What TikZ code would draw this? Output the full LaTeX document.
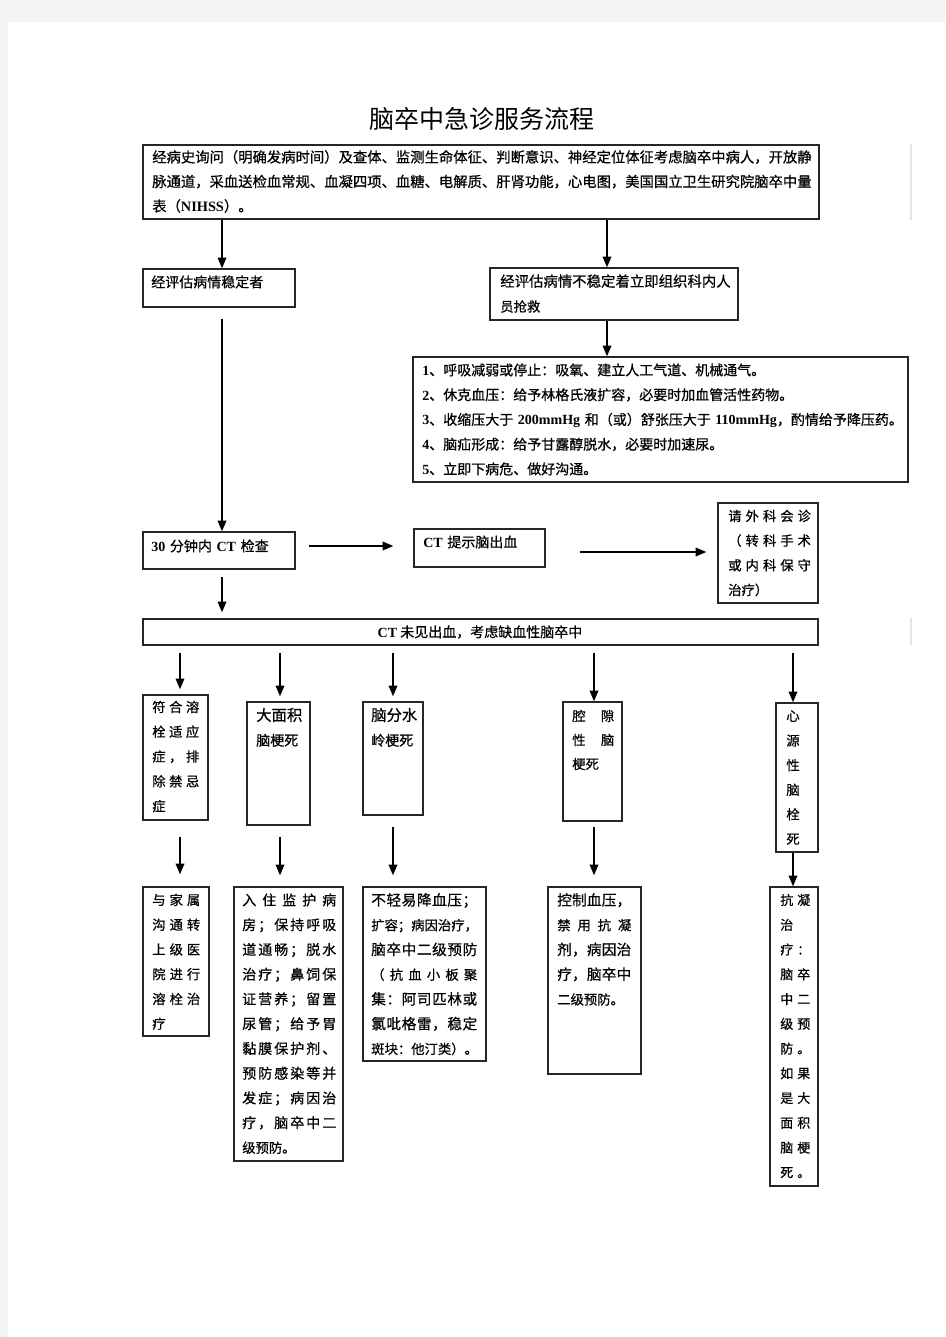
\documentclass[tikz,border=0pt]{standalone}
\usepackage{fontspec}
\setmainfont{Noto Sans CJK SC}[FakeBold=0.6]
\newfontfamily\titlef{Noto Sans CJK SC}
\newfontfamily\latf{Liberation Serif}
\usetikzlibrary{arrows.meta,fit,calc}
\definecolor{pagegray}{HTML}{F3F3F3}
\definecolor{edgegray}{HTML}{E4E4E4}
\newcommand\lat[1]{{\latf\bfseries #1}}
\newcommand\fs[2]{\fontsize{#1}{#2}\selectfont}
\def\spreadaux#1{\ifx#1\relax\else#1\expandafter\spreadnext\fi}
\def\spreadnext#1{\ifx#1\relax\else\hfill#1\expandafter\spreadnext\fi}
\newcommand\spread[2]{\makebox[#1][s]{\spreadaux#2\relax}}
\begin{document}
\begin{tikzpicture}[x=0.75pt,y=-0.75pt,
  box/.style={draw=black!85, line width=1.1pt, inner sep=0pt},
  arr/.style={line width=1pt, -{Triangle[length=8pt,width=6.5pt]}},
  tx/.style={inner sep=0pt, anchor=base west, align=left, text width=#1}]
\useasboundingbox (0,0) rectangle (945,1337);
\fill[pagegray] (0,0) rectangle (945,1337);
\fill[white] (8,22) rectangle (945,1337);
\draw[edgegray, line width=0.8pt] (911,144) -- (911,220);
\draw[edgegray, line width=0.8pt] (911,618) -- (911,645);

% title
\node[inner sep=0pt, font=\titlef\fs{18.75}{22}] (title) at (482,119) {脑卒中急诊服务流程};

% boxes
\node[box, fit={(143,145)(819,219)}] (top) {};
\node[box, fit={(143,269)(295,307)}] (stable) {};
\node[box, fit={(490,268)(738,320)}] (unst) {};
\node[box, fit={(413,357)(908,482)}] (items) {};
\node[box, fit={(143,532)(295,569)}] (ct30) {};
\node[box, fit={(414,529)(545,567)}] (cthem) {};
\node[box, fit={(718,503)(818,603)}] (surg) {};
\node[box, fit={(143,619)(818,645)}] (ischem) {};
\node[box, fit={(143,695)(208,820)}] (r1) {};
\node[box, fit={(247,702)(310,825)}] (r2) {};
\node[box, fit={(363,702)(423,815)}] (r3) {};
\node[box, fit={(563,702)(622,821)}] (r4) {};
\node[box, fit={(776,703)(818,852)}] (r5) {};
\node[box, fit={(143,887)(209,1036)}] (b1) {};
\node[box, fit={(234,887)(343,1161)}] (b2) {};
\node[box, fit={(363,887)(486,1061)}] (b3) {};
\node[box, fit={(548,887)(641,1074)}] (b4) {};
\node[box, fit={(770,887)(818,1186)}] (b5) {};

% texts
\node[tx=520pt, font=\fs{10.75}{18.4}] (topt) at (152,162.4) {经病史询问（明确发病时间）及查体、监测生命体征、判断意识、神经定位体征考虑脑卒中病人，开放静\\脉通道，采血送检血常规、血凝四项、血糖、电解质、肝肾功能，心电图，美国国立卫生研究院脑卒中量\\表（\lat{NIHSS}）。};
\node[tx=150pt, font=\fs{10.5}{18}] (stablet) at (151,287.3) {经评估病情稳定者};
\node[tx=200pt, font=\fs{10.8}{18.75}] (unstt) at (500,286.6) {经评估病情不稳定着立即组织科内人\\{\fs{10}{18.75}员抢救}};
\node[tx=380pt, font=\fs{10.5}{18.56}] (itemst) at (422,375.3) {\lat{1}、呼吸减弱或停止：吸氧、建立人工气道、机械通气。\\\lat{2}、休克血压：给予林格氏液扩容，必要时加血管活性药物。\\\lat{3}、收缩压大于 \lat{200mmHg} 和（或）舒张压大于 \lat{110mmHg}，酌情给予降压药。\\\lat{4}、脑疝形成：给予甘露醇脱水，必要时加速尿。\\\lat{5}、立即下病危、做好沟通。};
\node[tx=150pt, font=\fs{10.5}{18}] (ct30t) at (151,551.3) {\lat{30} 分钟内 \lat{CT} 检查};
\node[tx=150pt, font=\fs{10.5}{18}] (cthemt) at (423,547.3) {\lat{CT} 提示脑出血};
\node[tx=70pt, font=\fs{10}{18.5}] (surgt) at (728,521) {\spread{62pt}{请外科会诊}\\\spread{62pt}{（转科手术}\\\spread{62pt}{或内科保守}\\治疗）};
\node[inner sep=0pt, font=\fs{10.5}{12}] (ischemt) at (480,632) {\lat{CT} 未见出血，考虑缺血性脑卒中};

\node[tx=40pt, font=\fs{10}{18.6}] (r1t) at (152,712) {\spread{35.25pt}{符合溶}\\\spread{35.25pt}{栓适应}\\\spread{35.25pt}{症，排}\\\spread{35.25pt}{除禁忌}\\症};
\node[tx=45pt, font=\fs{10.5}{18.6}] (r2t) at (256,720.8) {{\fs{11.5}{18.6}大面积}\\脑梗死};
\node[tx=45pt, font=\fs{10.5}{18.6}] (r3t) at (371,720.8) {{\fs{11.5}{18.6}脑分水}\\岭梗死};
\node[tx=40pt, font=\fs{10}{18}] (r4t) at (572,721) {\spread{31.5pt}{腔隙}\\\spread{31.5pt}{性脑}\\梗死};
\node[tx=20pt, align=center, anchor=base, font=\fs{10}{18.45}] (r5t) at (793,721) {心\\源\\性\\脑\\栓\\死};

\node[tx=40pt, font=\fs{10}{18.56}] (b1t) at (152,905) {\spread{36pt}{与家属}\\\spread{36pt}{沟通转}\\\spread{36pt}{上级医}\\\spread{36pt}{院进行}\\\spread{36pt}{溶栓治}\\疗};
\node[tx=75pt, font=\fs{10.5}{18.56}] (b2t) at (242,905.3) {\spread{70.5pt}{入住监护病}\\\spread{70.5pt}{房；保持呼吸}\\\spread{70.5pt}{道通畅；脱水}\\\spread{70.5pt}{治疗；鼻饲保}\\\spread{70.5pt}{证营养；留置}\\\spread{70.5pt}{尿管；给予胃}\\\spread{70.5pt}{黏膜保护剂、}\\\spread{70.5pt}{预防感染等并}\\\spread{70.5pt}{发症；病因治}\\\spread{70.5pt}{疗，脑卒中二}\\{\fs{10}{18.56}级预防。}};
\node[tx=85pt, font=\fs{10}{18.56}] (b3t) at (371,905.5) {{\fs{11}{18.56}\spread{79.5pt}{不轻易降血压；}}\\\spread{79.5pt}{扩容；病因治疗，}\\{\fs{11}{18.56}\spread{79.5pt}{脑卒中二级预防}}\\\spread{79.5pt}{（抗血小板聚}\\{\fs{11}{18.56}\spread{79.5pt}{集：阿司匹林或}}\\{\fs{11}{18.56}\spread{79.5pt}{氯吡格雷，稳定}}\\\spread{77pt}{斑块：他汀类）。}};
\node[tx=60pt, font=\fs{10}{18.56}] (b4t) at (557,905.5) {{\fs{11}{18.56}\spread{55.5pt}{控制血压，}}\\\spread{55.5pt}{禁用抗凝}\\{\fs{11}{18.56}\spread{55.5pt}{剂，病因治}}\\{\fs{11}{18.56}\spread{55.5pt}{疗，脑卒中}}\\二级预防。};
\node[tx=25pt, font=\fs{9.75}{18.56}] (b5t) at (780,905) {\spread{22.5pt}{抗凝}\\治\\\spread{22.5pt}{疗：}\\\spread{22.5pt}{脑卒}\\\spread{22.5pt}{中二}\\\spread{22.5pt}{级预}\\\spread{22.5pt}{防。}\\\spread{22.5pt}{如果}\\\spread{22.5pt}{是大}\\\spread{22.5pt}{面积}\\\spread{22.5pt}{脑梗}\\\spread{22.5pt}{死。}};

% connector guides
\coordinate (xa) at (222,0);
\coordinate (xb) at (607,0);
\coordinate (ya) at (0,546);
\coordinate (yb) at (0,552);
\coordinate (x1) at (180,0);
\coordinate (x2) at (280,0);
\coordinate (x3) at (393,0);
\coordinate (x4) at (594,0);
\coordinate (x5) at (793,0);

% connectors
\draw[arr] (top.south -| xa) -- (stable.north -| xa);
\draw[arr] (top.south -| xb) -- (unst.north -| xb);
\draw[arr] (unst.south -| xb) -- (items.north -| xb);
\draw[arr, shorten <=8.25pt] (stable.south -| xa) -- (ct30.north -| xa);
\draw[arr, shorten <=9.75pt, shorten >=15pt] (ct30.east |- ya) -- (cthem.west |- ya);
\draw[arr, shorten <=25.5pt, shorten >=8.25pt] (cthem.east |- yb) -- (surg.west |- yb);
\draw[arr, shorten <=5.25pt, shorten >=4.5pt] (ct30.south -| xa) -- (ischem.north -| xa);

\draw[arr, shorten <=5.25pt, shorten >=3.75pt] (ischem.south -| x1) -- (r1.north -| x1);
\draw[arr, shorten <=5.25pt, shorten >=3.75pt] (ischem.south -| x2) -- (r2.north -| x2);
\draw[arr, shorten <=5.25pt, shorten >=3.75pt] (ischem.south -| x3) -- (r3.north -| x3);
\draw[arr, shorten <=5.25pt] (ischem.south -| x4) -- (r4.north -| x4);
\draw[arr, shorten <=5.25pt] (ischem.south -| x5) -- (r5.north -| x5);

\draw[arr, shorten <=12pt, shorten >=9pt] (r1.south -| x1) -- (b1.north -| x1);
\draw[arr, shorten <=8.25pt, shorten >=8.25pt] (r2.south -| x2) -- (b2.north -| x2);
\draw[arr, shorten <=8.25pt, shorten >=8.25pt] (r3.south -| x3) -- (b3.north -| x3);
\draw[arr, shorten <=3.75pt, shorten >=8.25pt] (r4.south -| x4) -- (b4.north -| x4);
\draw[arr] (r5.south -| x5) -- (b5.north -| x5);
\end{tikzpicture}
\end{document}
